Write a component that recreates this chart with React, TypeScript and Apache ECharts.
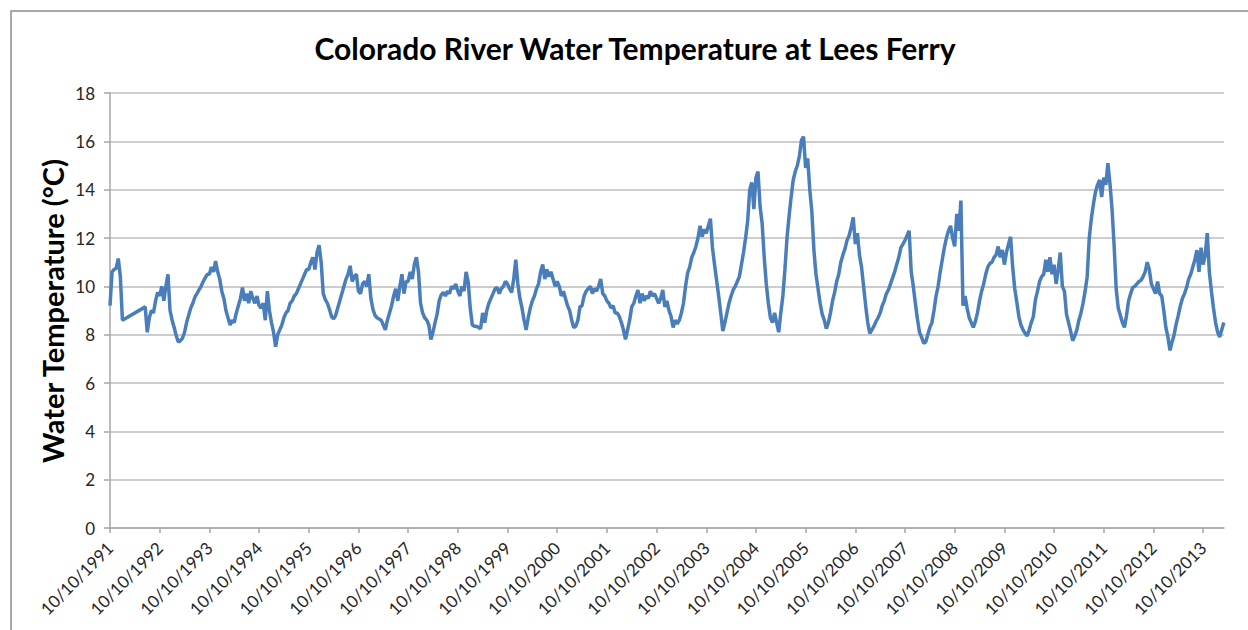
import React, { useEffect, useRef } from "react";
import * as echarts from "echarts";

const TITLE = "Colorado River Water Temperature at Lees Ferry";
const Y_NAME = "Water Temperature (°C)";
const SAMPLES_PER_YEAR = 24;

const tickLabels = [
  "10/10/1991", "10/10/1992", "10/10/1993", "10/10/1994", "10/10/1995", "10/10/1996",
  "10/10/1997", "10/10/1998", "10/10/1999", "10/10/2000", "10/10/2001", "10/10/2002",
  "10/10/2003", "10/10/2004", "10/10/2005", "10/10/2006", "10/10/2007", "10/10/2008",
  "10/10/2009", "10/10/2010", "10/10/2011", "10/10/2012", "10/10/2013",
];

// Semi-monthly readings (°C) starting at 10/10 of each water year; null = no data
const t1991 = [9.2, 10.6, 10.7, 10.75, 11.15, 10.4, 8.6, null, null, null, null, null, null, null, null, null, null, 9.15, 8.1, 8.7, 9.0, 8.9, 9.4, 9.75];
const t1992 = [9.6, 10.0, 9.4, 10.0, 10.5, 9.0, 8.6, 8.3, 7.95, 7.7, 7.75, 7.85, 8.1, 8.5, 8.8, 9.1, 9.3, 9.55, 9.7, 9.85, 10.0, 10.2, 10.35, 10.5];
const t1993 = [10.5, 10.8, 10.6, 11.05, 10.6, 10.3, 9.8, 9.5, 9.0, 8.7, 8.4, 8.6, 8.5, 8.9, 9.2, 9.5, 9.95, 9.4, 9.7, 9.3, 9.8, 9.5, 9.3, 9.6];
const t1994 = [9.2, 9.1, 9.3, 8.6, 9.8, 9.0, 8.5, 8.1, 7.5, 8.0, 8.2, 8.4, 8.7, 8.9, 9.0, 9.3, 9.4, 9.6, 9.7, 9.9, 10.1, 10.3, 10.5, 10.7];
const t1995 = [10.7, 11.0, 11.2, 10.7, 11.4, 11.7, 11.0, 9.7, 9.45, 9.3, 9.05, 8.75, 8.65, 8.8, 9.1, 9.4, 9.7, 10.0, 10.3, 10.5, 10.85, 10.2, 10.4, 10.5];
const t1996 = [9.8, 9.7, 10.1, 10.2, 10.0, 10.5, 9.5, 9.05, 8.8, 8.7, 8.65, 8.6, 8.4, 8.2, 8.6, 8.9, 9.2, 9.6, 9.9, 9.4, 10.0, 10.5, 9.7, 10.2];
const t1997 = [10.2, 10.6, 10.3, 10.9, 11.2, 10.6, 9.3, 8.9, 8.7, 8.6, 8.4, 7.8, 8.1, 8.5, 8.85, 9.4, 9.65, 9.75, 9.6, 9.8, 9.7, 10.0, 9.9, 10.1];
const t1998 = [9.8, 9.6, 10.0, 9.8, 10.6, 10.2, 9.1, 8.4, 8.35, 8.35, 8.3, 8.25, 8.9, 8.5, 9.0, 9.3, 9.5, 9.7, 9.9, 9.95, 9.7, 9.9, 10.0, 10.2];
const t1999 = [10.1, 9.9, 9.75, 10.3, 11.1, 10.1, 9.5, 9.1, 8.6, 8.2, 8.7, 9.1, 9.4, 9.6, 9.9, 10.1, 10.6, 10.9, 10.3, 10.7, 10.4, 10.6, 10.3, 10.0];
const t2000 = [10.2, 10.0, 9.6, 9.8, 9.5, 9.2, 9.0, 8.6, 8.3, 8.35, 8.6, 9.15, 9.2, 9.6, 9.8, 9.9, 10.0, 9.7, 9.9, 9.8, 10.0, 10.3, 9.7, 9.6];
const t2001 = [9.4, 9.3, 9.1, 9.2, 8.9, 8.9, 8.75, 8.5, 8.2, 7.8, 8.2, 8.6, 9.15, 9.3, 9.6, 9.85, 9.3, 9.7, 9.4, 9.6, 9.5, 9.8, 9.6, 9.7];
const t2002 = [9.5, 9.3, 9.5, 9.85, 9.15, 9.4, 9.0, 8.75, 8.3, 8.6, 8.45, 8.6, 8.9, 9.3, 10.0, 10.55, 10.8, 11.2, 11.4, 11.65, 12.0, 12.5, 12.05, 12.35];
const t2003 = [12.2, 12.5, 12.8, 11.6, 10.9, 10.25, 9.6, 8.9, 8.15, 8.5, 8.9, 9.3, 9.6, 9.85, 10.0, 10.2, 10.4, 10.9, 11.4, 12.0, 12.7, 14.0, 14.3, 13.2];
const t2004 = [14.5, 14.75, 13.3, 12.6, 11.2, 10.1, 9.3, 8.7, 8.5, 8.9, 8.5, 8.1, 8.9, 9.6, 10.7, 12.0, 12.9, 13.7, 14.4, 14.75, 15.0, 15.4, 16.05, 16.2];
const t2005 = [14.9, 15.3, 14.0, 13.1, 11.5, 10.5, 9.9, 9.3, 8.85, 8.6, 8.25, 8.5, 8.9, 9.4, 9.75, 10.2, 10.5, 11.0, 11.3, 11.55, 11.9, 12.1, 12.45, 12.85];
const t2006 = [11.75, 12.2, 11.3, 10.8, 10.0, 9.2, 8.5, 8.05, 8.2, 8.35, 8.55, 8.7, 8.9, 9.2, 9.4, 9.7, 9.85, 10.1, 10.35, 10.6, 10.9, 11.2, 11.6, 11.75];
const t2007 = [11.9, 12.1, 12.3, 10.6, 10.0, 9.3, 8.65, 8.1, 7.9, 7.65, 7.7, 8.0, 8.3, 8.5, 9.0, 9.6, 10.0, 10.6, 11.1, 11.6, 12.0, 12.3, 12.5, 12.0];
const t2008 = [11.65, 13.0, 12.3, 13.55, 9.2, 9.6, 9.1, 8.7, 8.5, 8.3, 8.55, 8.9, 9.4, 9.8, 10.1, 10.5, 10.8, 10.95, 11.0, 11.2, 11.3, 11.65, 11.2, 11.5];
const t2009 = [10.9, 11.4, 11.75, 12.05, 10.8, 9.9, 9.35, 8.75, 8.4, 8.2, 8.05, 7.95, 8.2, 8.5, 8.75, 9.45, 9.8, 10.2, 10.4, 10.5, 11.1, 10.6, 11.2, 10.5];
const t2010 = [10.9, 10.1, 10.7, 11.4, 10.0, 9.8, 8.85, 8.5, 8.15, 7.75, 7.95, 8.2, 8.6, 8.9, 9.3, 9.8, 10.4, 12.0, 12.8, 13.4, 13.9, 14.2, 14.4, 13.7];
const t2011 = [14.5, 14.2, 15.1, 14.25, 13.2, 11.7, 9.9, 9.1, 8.8, 8.5, 8.3, 8.8, 9.4, 9.7, 9.95, 10.0, 10.1, 10.2, 10.25, 10.4, 10.6, 11.0, 10.7, 10.1];
const t2012 = [9.9, 9.7, 10.2, 9.7, 9.6, 9.0, 8.3, 7.9, 7.35, 7.7, 8.0, 8.45, 8.8, 9.2, 9.5, 9.7, 9.95, 10.3, 10.5, 10.8, 11.1, 11.5, 10.6, 11.6];
const t2013 = [10.9, 11.3, 12.2, 10.6, 9.8, 9.1, 8.5, 8.1, 7.9, 8.2, 8.5];

const yearSeries = [
  t1991, t1992, t1993, t1994, t1995, t1996, t1997, t1998, t1999, t2000, t2001, t2002,
  t2003, t2004, t2005, t2006, t2007, t2008, t2009, t2010, t2011, t2012, t2013,
];

const X_MAX = 22.42;
const FONT = "Lato, 'Open Sans', sans-serif";

export default function App() {
  const ref = useRef<HTMLDivElement>(null);

  useEffect(() => {
    if (!ref.current) return;
    const chart = echarts.init(ref.current, null, { renderer: "svg" });

    const data: any[] = [];
    yearSeries.forEach((vals, k) => {
      vals.forEach((v, i) => {
        data.push([k + i / SAMPLES_PER_YEAR, v === null ? "-" : v]);
      });
    });
    const tickValues = tickLabels.map((_, i) => i);

    chart.setOption({
      animation: false,
      backgroundColor: "#ffffff",
      grid: { left: 110, right: 24, top: 93, bottom: 102, containLabel: false },
      graphic: [
        {
          type: "rect",
          shape: { x: 11, y: 11, width: 1260, height: 640 },
          style: { fill: "none", stroke: "#8c8c8c", lineWidth: 1.5 },
          silent: true,
        },
        {
          type: "text",
          x: 635,
          y: 48,
          style: {
            text: TITLE,
            font: `bold 30px ${FONT}`,
            fill: "#000000",
            textAlign: "center",
            textVerticalAlign: "middle",
          },
        },
        {
          type: "text",
          x: 52,
          y: 311,
          rotation: Math.PI / 2,
          style: {
            text: Y_NAME,
            font: `bold 29px ${FONT}`,
            fill: "#000000",
            textAlign: "center",
            textVerticalAlign: "middle",
          },
        },
      ],
      xAxis: {
        type: "value",
        min: 0,
        max: X_MAX,
        interval: 1,
        axisLine: { show: true, lineStyle: { color: "#a6a6a6", width: 1.5 } },
        axisTick: {
          show: true,
          length: 5,
          customValues: tickValues,
          lineStyle: { color: "#a6a6a6", width: 1.5 },
        },
        axisLabel: {
          customValues: tickValues,
          rotate: 45,
          margin: 17,
          color: "#262626",
          fontFamily: FONT,
          fontSize: 17,
          formatter: (v: number) => {
            const r = Math.round(v);
            return Math.abs(v - r) < 1e-6 && tickLabels[r] ? tickLabels[r] : "";
          },
        },
        splitLine: { show: false },
      },
      yAxis: {
        type: "value",
        min: 0,
        max: 18,
        interval: 2,
        axisLine: { show: true, lineStyle: { color: "#a6a6a6", width: 1.5 } },
        axisTick: { show: true, length: 6, lineStyle: { color: "#a6a6a6", width: 1.5 } },
        axisLabel: {
          margin: 15,
          color: "#262626",
          fontFamily: FONT,
          fontSize: 17,
        },
        splitLine: { show: true, lineStyle: { color: "#bdbdbd", width: 1.5 } },
      },
      series: [
        {
          type: "line",
          data,
          showSymbol: false,
          symbol: "none",
          connectNulls: true,
          lineStyle: { color: "#4a7ebb", width: 3.5 },
          itemStyle: { color: "#4a7ebb" },
        },
      ],
    });

    return () => chart.dispose();
  }, []);

  return (
    <div
      ref={ref}
      style={{ position: "fixed", left: 0, top: 0, width: 1248, height: 630, background: "#fff" }}
    />
  );
}
